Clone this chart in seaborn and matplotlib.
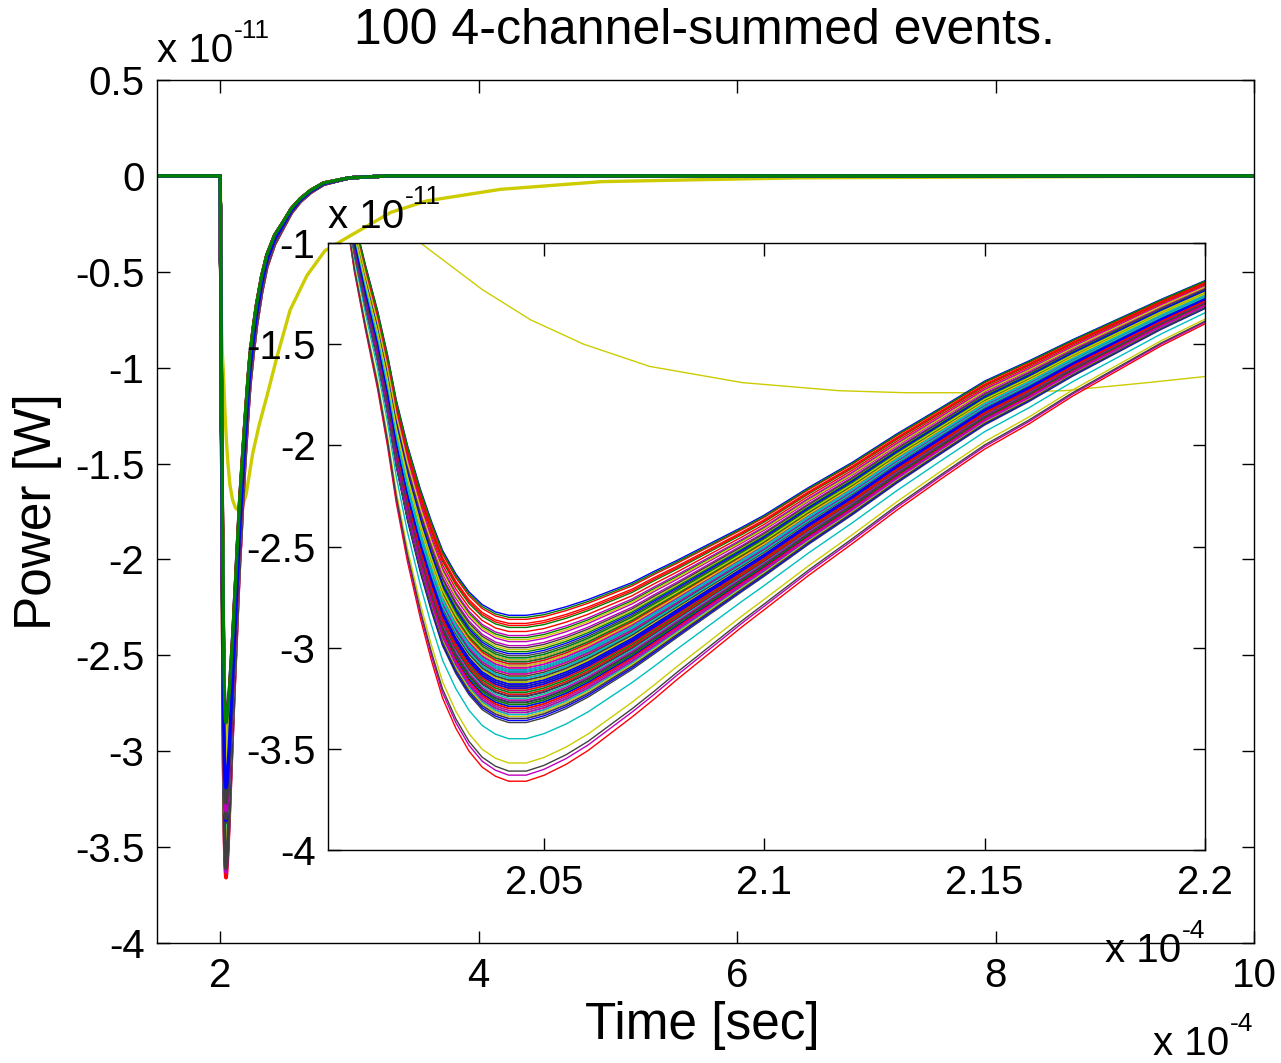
import pandas as pd
import matplotlib
matplotlib.use('Agg')
import matplotlib.pyplot as plt
import seaborn as sns

# ---------- data (time in 1e-4 s, power in 1e-11 W) ----------
pulse_time = [1.51, 1.998, 2.000, 2.002, 2.004, 2.007, 2.0095, 2.0122, 2.0145, 2.0165,
              2.019, 2.022, 2.0245, 2.027, 2.030, 2.033, 2.036, 2.039, 2.042, 2.046,
              2.050, 2.055, 2.060, 2.065, 2.070, 2.075, 2.080, 2.085, 2.090, 2.095,
              2.100, 2.110, 2.120, 2.130, 2.140, 2.150, 2.160, 2.170, 2.180, 2.190,
              2.200, 2.215, 2.230, 2.255, 2.280, 2.320, 2.360, 2.420, 2.490, 2.550,
              2.620, 2.700, 2.800, 3.000, 3.300, 10.0]
pulse_power = [0.0, 0.0, -0.12, -0.38, -0.62, -1.00, -1.25, -1.50, -1.75, -2.00,
               -2.25, -2.50, -2.68, -2.84, -2.97, -3.07, -3.14, -3.18, -3.20, -3.20,
               -3.18, -3.14, -3.09, -3.03, -2.97, -2.90, -2.83, -2.76, -2.69, -2.62,
               -2.55, -2.40, -2.26, -2.11, -1.97, -1.83, -1.72, -1.60, -1.49, -1.38,
               -1.28, -1.13, -1.00, -0.85, -0.72, -0.56, -0.44, -0.33, -0.25, -0.18,
               -0.125, -0.08, -0.04, -0.01, 0.0, 0.0]
pulse_min = -3.20
# how much of an event's extra depth shows at each time (1 at the minimum)
depth_weight = [0.0, 0.0, 0.04, 0.12, 0.19, 0.31, 0.39, 0.47, 0.55, 0.62,
                0.70, 0.78, 0.84, 0.89, 0.93, 0.96, 0.98, 0.99, 1.00, 1.00,
                0.98, 0.95, 0.91, 0.86, 0.81, 0.77, 0.72, 0.68, 0.64, 0.60,
                0.57, 0.53, 0.49, 0.46, 0.43, 0.41, 0.38, 0.34, 0.31, 0.28,
                0.26, 0.23, 0.20, 0.17, 0.14, 0.11, 0.08, 0.06, 0.04, 0.03,
                0.02, 0.015, 0.01, 0.0, 0.0, 0.0]

# pulse depth of each of the 99 regular events (inset minima)
event_depth = [
    -2.84, -3.21, -3.66, -3.45, -3.63, -3.57, -3.61,
    -3.12, -3.27, -2.86, -3.05, -3.18, -3.30, -3.37,
    -3.15, -2.90, -3.24, -3.08, -3.33, -3.01, -3.19,
    -3.28, -2.95, -3.10, -3.22, -3.35, -3.14, -3.04,
    -3.26, -3.17, -2.88, -3.31, -3.09, -3.23, -3.20,
    -3.06, -3.29, -3.13, -3.34, -2.99, -3.25, -3.16,
    -3.11, -3.32, -2.92, -3.21, -3.07, -3.28, -3.18,
    -3.24, -3.02, -3.30, -3.15, -2.97, -3.26, -3.12,
    -3.36, -3.19, -3.08, -3.23, -2.94, -3.31, -3.14,
    -3.27, -3.05, -3.20, -3.33, -3.10, -3.17, -3.00,
    -3.29, -3.22, -2.89, -3.25, -3.13, -3.34, -3.16,
    -3.03, -3.28, -3.21, -3.11, -3.32, -2.96, -3.24,
    -3.18, -3.07, -3.30, -3.15, -3.26, -3.09, -3.35,
    -3.20, -2.85, -3.23, -3.12, -3.31, -3.06, -3.27,
    -3.19]

# the one slow (yellow) event
slow_time = [1.51, 2.000, 2.004, 2.008, 2.015, 2.022, 2.036, 2.047, 2.059, 2.074,
             2.095, 2.117, 2.132, 2.149, 2.168, 2.187, 2.200, 2.250, 2.300, 2.360,
             2.440, 2.540, 2.670, 2.810, 2.960, 3.140, 3.320, 3.600, 4.170, 4.950,
             5.700, 6.500, 10.0]
slow_power = [0.0, 0.0, -0.40, -0.75, -0.92, -1.00, -1.23, -1.38, -1.50, -1.61,
              -1.69, -1.73, -1.74, -1.74, -1.73, -1.69, -1.66, -1.45, -1.30, -1.15,
              -0.94, -0.70, -0.52, -0.39, -0.33, -0.26, -0.19, -0.13, -0.07, -0.03,
              -0.02, -0.01, 0.0]

main_xticks = [2, 4, 6, 8, 10]
main_xlabels = ['2', '4', '6', '8', '10']
main_yticks = [-4, -3.5, -3, -2.5, -2, -1.5, -1, -0.5, 0, 0.5]
main_ylabels = ['-4', '-3.5', '-3', '-2.5', '-2', '-1.5', '-1', '-0.5', '0', '0.5']
inset_xticks = [2.05, 2.1, 2.15, 2.2]
inset_xlabels = ['2.05', '2.1', '2.15', '2.2']
inset_yticks = [-4, -3.5, -3, -2.5, -2, -1.5, -1]
inset_ylabels = ['-4', '-3.5', '-3', '-2.5', '-2', '-1.5', '-1']

# old MATLAB line colour order
matlab_colors = [(0, 0, 1), (0, 0.5, 0), (1, 0, 0), (0, 0.75, 0.75),
                 (0.75, 0, 0.75), (0.8, 0.8, 0), (0.25, 0.25, 0.25)]

# ---------- build long table ----------
frames = [pd.DataFrame({'time': slow_time, 'power': slow_power, 'event': 'slow'})]
palette = {'slow': matlab_colors[5]}
order = ['slow']
for i, d in enumerate(event_depth):
    name = f'ev{i:03d}'
    power = [p + (d - pulse_min) * w for p, w in zip(pulse_power, depth_weight)]
    frames.append(pd.DataFrame({'time': pulse_time, 'power': power, 'event': name}))
    palette[name] = matlab_colors[i % 7]
    order.append(name)
df = pd.concat(frames, ignore_index=True)
# a green event drawn last, as on top of the baseline in the original
order.remove('ev092')
order.append('ev092')

# ---------- style ----------
sns.set_style('ticks', {'xtick.direction': 'in', 'ytick.direction': 'in'})
plt.rcParams['font.family'] = ['Liberation Sans', 'DejaVu Sans']
plt.rcParams['axes.unicode_minus'] = False
plt.rcParams['axes.linewidth'] = 1.0
plt.rcParams['text.color'] = 'black'

fig = plt.figure(figsize=(12.81, 10.63), dpi=100)
W, H = 1281, 1063


def box(l, t, r, b):
    return [l / W, 1 - b / H, (r - l) / W, (b - t) / H]


ax = fig.add_axes(box(157, 80, 1254, 943))
sns.lineplot(data=df, x='time', y='power', hue='event', hue_order=order,
             palette=palette, estimator=None, legend=False, lw=2.4, ax=ax)
ax.set_xlim(1.51, 10)
ax.set_ylim(-4, 0.5)
ax.set_xticks(main_xticks, main_xlabels)
ax.set_yticks(main_yticks, main_ylabels)
ax.set_xlabel('')
ax.set_ylabel('')

ins = fig.add_axes(box(328, 243, 1205, 850))
sns.lineplot(data=df, x='time', y='power', hue='event', hue_order=order,
             palette=palette, estimator=None, legend=False, lw=1.0, ax=ins)
ins.set_xlim(2.001, 2.2)
ins.set_ylim(-4, -1)
ins.set_xticks(inset_xticks, inset_xlabels)
ins.set_yticks(inset_yticks, inset_ylabels)
ins.set_xlabel('')
ins.set_ylabel('')

for a in (ax, ins):
    a.set_facecolor('white')
    for s in a.spines.values():
        s.set_visible(True)
        s.set_color('black')
    a.tick_params(which='both', direction='in', top=True, right=True,
                  length=9, width=1.0, labelsize=29, colors='black')
    a.tick_params(axis='x', pad=10)
    a.tick_params(axis='y', pad=9)

# labels and exponent notes
fig.text(705 / W, 1 - 31 / H, '100 4-channel-summed events.', fontsize=36,
         ha='center', va='center', color='black')
fig.text(702 / W, 1 - 1025 / H, 'Time [sec]', fontsize=37, ha='center', va='center',
         color='black')
fig.text(38 / W, 1 - 512 / H, 'Power [W]', fontsize=37, ha='center', va='center',
         rotation=90, color='black')


def exponent(x, y, sup):
    fig.text(x / W, 1 - y / H, 'x 10', fontsize=29, ha='left', va='baseline')
    fig.text((x + 77) / W, 1 - (y - 24) / H, sup, fontsize=19, ha='left', va='baseline')


exponent(157, 62, '-11')
exponent(1153, 1055, '-4')
exponent(328, 228, '-11')
exponent(1105, 962, '-4')

fig.savefig('out.png', dpi=100, facecolor='white')
